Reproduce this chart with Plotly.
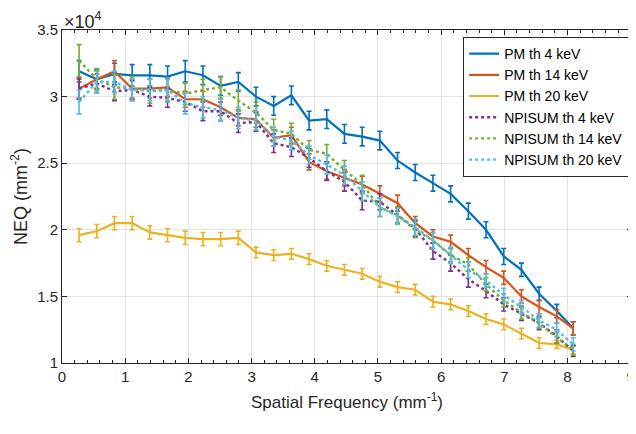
import plotly.graph_objects as go

# Spatial frequency (mm^-1)
freq = [0.27, 0.55, 0.83, 1.11, 1.39, 1.67, 1.95, 2.23, 2.51, 2.79,
        3.07, 3.35, 3.63, 3.91, 4.19, 4.47, 4.75, 5.03, 5.31, 5.59,
        5.87, 6.15, 6.43, 6.71, 6.99, 7.27, 7.55, 7.83, 8.09]

# NEQ values in units of 1e4 mm^-2
pm_4 = [3.19, 3.13, 3.17, 3.16, 3.16, 3.15, 3.19, 3.16, 3.08, 3.11,
        3.00, 2.93, 3.01, 2.82, 2.83, 2.72, 2.70, 2.67, 2.52, 2.43,
        2.35, 2.27, 2.14, 2.00, 1.80, 1.70, 1.52, 1.39, 1.26]
pm_4_err = [0.08, 0.07, 0.08, 0.08, 0.08, 0.08, 0.08, 0.07, 0.07, 0.07,
            0.07, 0.07, 0.07, 0.07, 0.07, 0.07, 0.07, 0.07, 0.06, 0.06,
            0.06, 0.06, 0.06, 0.06, 0.06, 0.05, 0.05, 0.05, 0.05]

pm_14 = [3.06, 3.13, 3.19, 3.06, 3.06, 3.07, 2.98, 2.98, 2.92, 2.84,
         2.83, 2.69, 2.71, 2.51, 2.44, 2.39, 2.34, 2.27, 2.20, 2.05,
         1.95, 1.91, 1.81, 1.72, 1.64, 1.50, 1.42, 1.35, 1.26]
pm_14_err = [0.07, 0.07, 0.08, 0.07, 0.07, 0.07, 0.06, 0.06, 0.06, 0.06,
             0.06, 0.06, 0.06, 0.06, 0.06, 0.06, 0.06, 0.06, 0.06, 0.05,
             0.05, 0.05, 0.05, 0.05, 0.05, 0.05, 0.05, 0.05, 0.05]

pm_20 = [1.96, 1.99, 2.05, 2.05, 1.98, 1.96, 1.94, 1.93, 1.93, 1.94,
         1.83, 1.81, 1.82, 1.78, 1.73, 1.70, 1.67, 1.61, 1.57, 1.55,
         1.46, 1.44, 1.39, 1.33, 1.29, 1.22, 1.15, 1.14, 1.10]
pm_20_err = [0.05, 0.05, 0.05, 0.05, 0.05, 0.05, 0.05, 0.05, 0.05, 0.05,
             0.04, 0.04, 0.04, 0.04, 0.04, 0.04, 0.04, 0.04, 0.04, 0.04,
             0.04, 0.04, 0.04, 0.04, 0.04, 0.04, 0.04, 0.03, 0.03]

npi_4 = [3.06, 3.10, 3.04, 3.05, 3.00, 2.99, 2.96, 2.89, 2.89, 2.80,
         2.81, 2.65, 2.62, 2.54, 2.44, 2.36, 2.22, 2.21, 2.11, 2.01,
         1.84, 1.75, 1.63, 1.54, 1.44, 1.37, 1.30, 1.20, 1.09]
npi_4_err = [0.08, 0.07, 0.07, 0.07, 0.07, 0.07, 0.07, 0.07, 0.07, 0.07,
             0.07, 0.07, 0.07, 0.07, 0.07, 0.07, 0.07, 0.06, 0.06, 0.06,
             0.06, 0.06, 0.06, 0.05, 0.05, 0.05, 0.05, 0.05, 0.04]

npi_14 = [3.27, 3.13, 3.07, 3.06, 3.04, 3.05, 3.02, 3.05, 3.07, 2.97,
          2.88, 2.75, 2.72, 2.60, 2.57, 2.45, 2.34, 2.17, 2.11, 2.00,
          1.92, 1.81, 1.74, 1.59, 1.47, 1.38, 1.30, 1.19, 1.10]
npi_14_err = [0.12, 0.08, 0.09, 0.09, 0.09, 0.09, 0.08, 0.08, 0.08, 0.08,
              0.08, 0.08, 0.08, 0.07, 0.07, 0.07, 0.07, 0.07, 0.06, 0.06,
              0.06, 0.05, 0.05, 0.05, 0.05, 0.05, 0.04, 0.04, 0.04]

npi_20 = [2.96, 3.11, 3.11, 3.05, 3.05, 3.05, 2.95, 2.92, 2.90, 2.84,
          2.82, 2.70, 2.67, 2.56, 2.49, 2.41, 2.29, 2.17, 2.10, 2.02,
          1.92, 1.81, 1.70, 1.62, 1.51, 1.42, 1.32, 1.25, 1.14]
npi_20_err = [0.09, 0.08, 0.08, 0.08, 0.08, 0.08, 0.08, 0.08, 0.08, 0.08,
              0.07, 0.07, 0.07, 0.07, 0.07, 0.07, 0.07, 0.07, 0.06, 0.06,
              0.06, 0.06, 0.06, 0.05, 0.05, 0.05, 0.05, 0.05, 0.05]

x_ticks = [0, 1, 2, 3, 4, 5, 6, 7, 8, 9]
x_ticklabels = ["0", "1", "2", "3", "4", "5", "6", "7", "8", "9"]

series = [
    ("PM th 4 keV", pm_4, pm_4_err, "#0072BD", "solid"),
    ("PM th 14 keV", pm_14, pm_14_err, "#D95319", "solid"),
    ("PM th 20 keV", pm_20, pm_20_err, "#EDB120", "solid"),
    ("NPISUM th 4 keV", npi_4, npi_4_err, "#7E2F8E", "dot"),
    ("NPISUM th 14 keV", npi_14, npi_14_err, "#77AC30", "dot"),
    ("NPISUM th 20 keV", npi_20, npi_20_err, "#4DBEEE", "dot"),
]

FONT = "Liberation Sans, Arial, sans-serif"

fig = go.Figure()
for name, vals, err, color, dash in series:
    fig.add_trace(go.Scatter(
        x=freq, y=vals, name=name, mode="lines",
        line=dict(color=color, width=2.2 if dash == "solid" else 2.4, dash=dash),
        error_y=dict(type="data", array=err, visible=True, color=color,
                     thickness=1.6, width=2.5),
    ))

axis_font = dict(family=FONT, size=15, color="#262626")

# The page body has an 8px default margin, so the figure is shifted by 8px.
fig.update_layout(
    width=628, height=418,
    margin=dict(l=54, r=4, t=22, b=63, autoexpand=False),
    paper_bgcolor="white", plot_bgcolor="white",
    font=axis_font,
    showlegend=True,
    legend=dict(
        x=0.995, y=0.979, xanchor="right", yanchor="top",
        bgcolor="white", bordercolor="#262626", borderwidth=1,
        font=dict(family=FONT, size=14, color="#000000"),
        tracegroupgap=0, itemwidth=30,
    ),
    xaxis=dict(
        range=[0, 9.02], tickmode="array", tickvals=x_ticks, ticktext=x_ticklabels,
        showgrid=True, gridcolor="#E3E3E3", gridwidth=1,
        showline=True, linecolor="#262626", linewidth=1, mirror="ticks",
        ticks="inside", ticklen=5, tickcolor="#262626",
        minor=dict(dtick=0.2, tick0=0, ticks="inside", ticklen=3, tickcolor="#262626", showgrid=False),
        zeroline=False, ticklabeloverflow="allow",
        title=dict(text="Spatial Frequency (mm<sup>-1</sup>)", font=dict(family=FONT, size=17), standoff=12),
        tickfont=axis_font,
    ),
    yaxis=dict(
        range=[1, 3.5], dtick=0.5, tick0=1,
        showgrid=True, gridcolor="#E3E3E3", gridwidth=1,
        showline=True, linecolor="#262626", linewidth=1, mirror="ticks",
        ticks="inside", ticklen=5, tickcolor="#262626",
        zeroline=False, ticklabeloverflow="allow",
        title=dict(text="NEQ (mm<sup>-2</sup>)", font=dict(family=FONT, size=18), standoff=14),
        tickfont=axis_font,
    ),
    annotations=[dict(
        text="×10<sup>4</sup>", x=0, y=1, xref="paper", yref="paper",
        xanchor="left", yanchor="bottom", showarrow=False, yshift=-4,
        font=dict(family=FONT, size=18, color="#262626"),
    )],
)

fig.write_html("out.html")
